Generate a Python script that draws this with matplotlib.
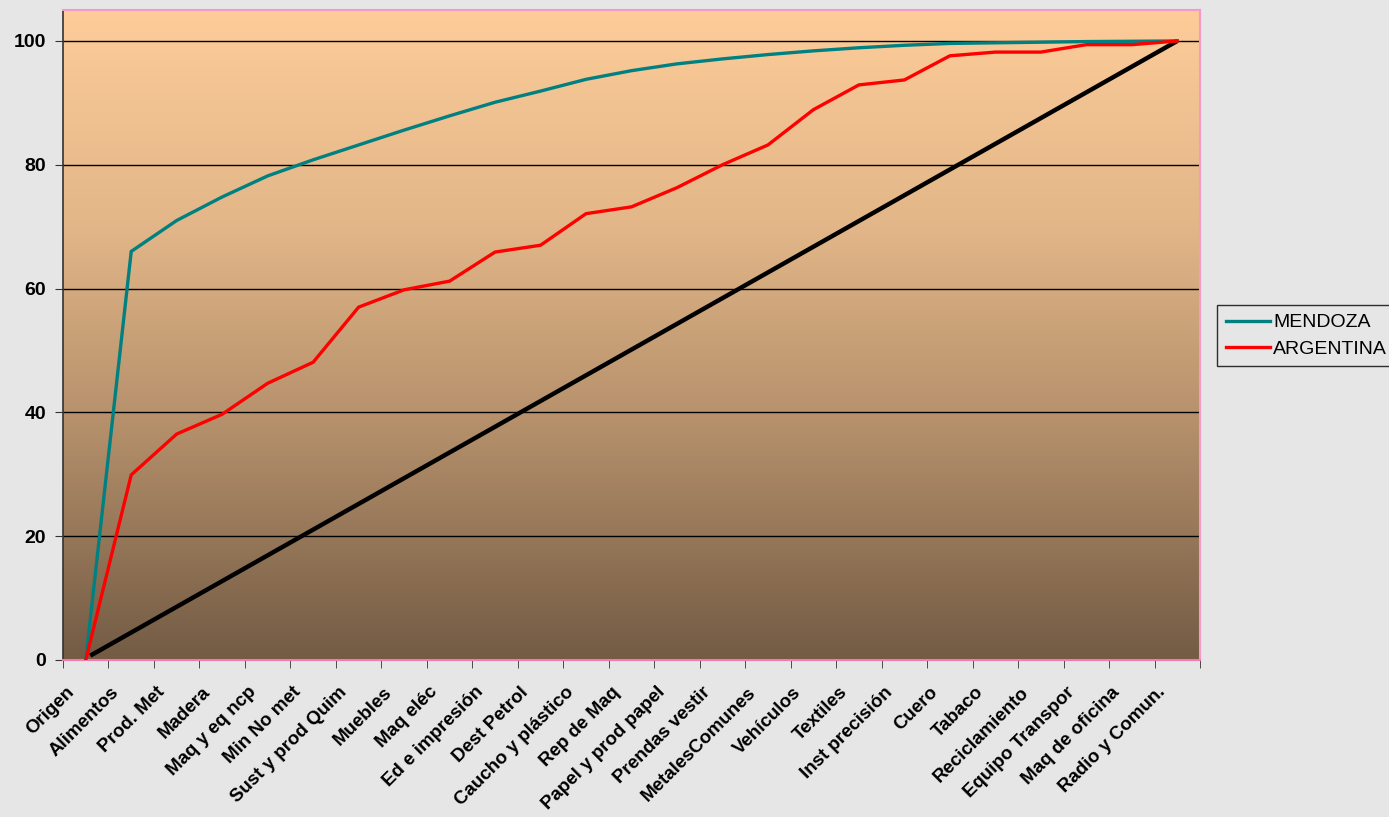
import numpy as np
import matplotlib
matplotlib.use("Agg")
import matplotlib.pyplot as plt
from matplotlib.colors import LinearSegmentedColormap

plt.rcParams['font.family'] = ['Liberation Sans', 'DejaVu Sans']

categories = ["Origen", "Alimentos", "Prod. Met", "Madera", "Maq y eq ncp", "Min No met",
              "Sust y prod Quim", "Muebles", "Maq eléc", "Ed e impresión", "Dest Petrol",
              "Caucho y plástico", "Rep de Maq", "Papel y prod papel", "Prendas vestir",
              "MetalesComunes", "Vehículos", "Textiles", "Inst precisión", "Cuero", "Tabaco",
              "Reciclamiento", "Equipo Transpor", "Maq de oficina", "Radio y Comun."]

mendoza = [0, 66.0, 71.0, 74.8, 78.2, 80.8, 83.2, 85.6, 87.9, 90.1, 91.9, 93.8, 95.2,
           96.3, 97.1, 97.8, 98.4, 98.9, 99.3, 99.6, 99.7, 99.8, 99.9, 99.95, 100]
argentina = [0, 29.9, 36.5, 39.7, 44.7, 48.1, 57.0, 59.8, 61.2, 65.9, 67.0, 72.1, 73.2,
             76.3, 80.0, 83.2, 88.9, 92.9, 93.7, 97.6, 98.2, 98.2, 99.4, 99.4, 100]
equidistribution = [0.7, 100]

fig = plt.figure(figsize=(13.89, 8.17), dpi=100)
fig.patch.set_facecolor('#E6E6E6')
ax = fig.add_axes([63/1389, 1-660/817, (1200-63)/1389, (660-10)/817])

n = len(categories)
ax.set_xlim(-0.5, n - 0.5)
ax.set_ylim(0, 105)

# gradient background
cmap = LinearSegmentedColormap.from_list('bg', ['#735B44', '#B08C68', '#E2B688', '#FDCC99'])
grad = np.linspace(0, 1, 256).reshape(-1, 1)
ax.imshow(grad, aspect='auto', cmap=cmap, origin='lower',
          extent=[-0.5, n - 0.5, 0, 105], zorder=0)

for y in [20, 40, 60, 80, 100]:
    ax.axhline(y, color='#000000', lw=1.0, zorder=1)

x = np.arange(n)
ax.plot([0.1, n - 1], equidistribution, color='black', lw=3.2, zorder=2,
        solid_capstyle='butt')
l1, = ax.plot(x, mendoza, color='#008080', lw=2.4, zorder=3)
l2, = ax.plot(x, argentina, color='#FF0000', lw=2.4, zorder=4)

ax.set_xticks(x - 0.45)
ax.set_xticklabels(categories, rotation=45, ha='right', rotation_mode='anchor',
                   fontsize=13.5, fontweight='bold')
ax.tick_params(axis='x', which='major', length=0, pad=17)
ax.set_xticks(np.arange(-0.5, n, 1), minor=True)
ax.tick_params(axis='x', which='minor', length=6, color='#333333', direction='out')

ax.set_yticks([0, 20, 40, 60, 80, 100])
ax.set_yticklabels(['0', '20', '40', '60', '80', '100'], fontsize=14, fontweight='bold')
ax.tick_params(axis='y', length=6, color='#333333', direction='out', pad=6)

for s in ['top', 'right']:
    ax.spines[s].set_color('#F49AC8')
    ax.spines[s].set_linewidth(1.5)
ax.spines['bottom'].set_color('#F27AB0')
ax.spines['bottom'].set_linewidth(1.5)
ax.spines['left'].set_color('#333333')
ax.spines['left'].set_linewidth(1.2)

leg = fig.legend(handles=[l1, l2], labels=['MENDOZA', 'ARGENTINA'],
                 loc='upper left', bbox_to_anchor=(1217/1389, 1-305/817),
                 frameon=True, fancybox=False, fontsize=14, handlelength=2.3,
                 handletextpad=0.15, borderpad=0.45, labelspacing=0.45, borderaxespad=0)
leg.get_frame().set_edgecolor('black')
leg.get_frame().set_facecolor('#E6E6E6')
leg.get_frame().set_linewidth(1.0)

fig.savefig('out.png', dpi=100, facecolor=fig.get_facecolor())
